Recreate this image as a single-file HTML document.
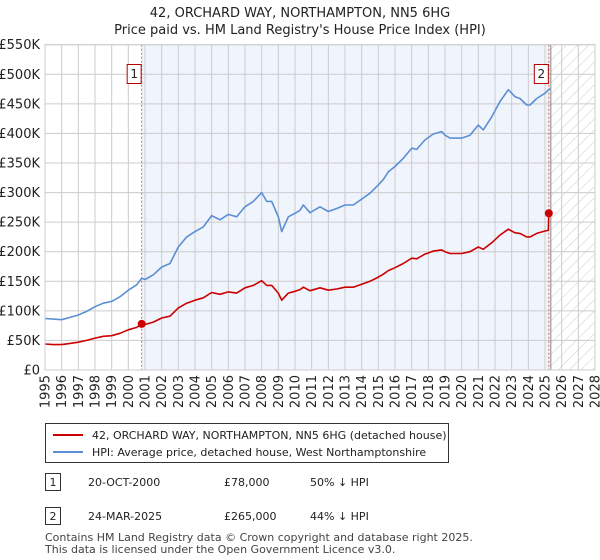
<!DOCTYPE html>
<html><head><meta charset="utf-8"><style>
body{margin:0;background:#fff;font-family:"Liberation Sans","DejaVu Sans",sans-serif;}
#wrap{position:relative;width:600px;height:560px;overflow:hidden;}
svg text{font-family:"DejaVu Sans","Liberation Sans",sans-serif;}
</style></head><body>
<div id="wrap">
<svg id="chart" width="600" height="560"></svg>
</div>
<script>
const years=[1995,1996,1997,1998,1999,2000,2001,2002,2003,2004,2005,2006,2007,2008,2009,2010,2011,2012,2013,2014,2015,2016,2017,2018,2019,2020,2021,2022,2023,2024,2025,2026,2027,2028];
const yTicks=[0,50,100,150,200,250,300,350,400,450,500,550];
const yTickLabels=["£0","£50K","£100K","£150K","£200K","£250K","£300K","£350K","£400K","£450K","£500K","£550K"];
const hpiDates=[1995,1995.5,1996,1996.5,1997,1997.5,1998,1998.5,1999,1999.5,2000,2000.5,2000.8,2001,2001.5,2002,2002.5,2003,2003.5,2004,2004.5,2005,2005.5,2006,2006.5,2007,2007.5,2008,2008.3,2008.6,2009,2009.2,2009.6,2010,2010.3,2010.5,2010.9,2011.5,2012,2012.5,2013,2013.5,2014,2014.5,2015,2015.3,2015.6,2016,2016.5,2017,2017.3,2017.8,2018.3,2018.8,2019,2019.3,2020,2020.5,2021,2021.3,2021.8,2022.3,2022.8,2023.2,2023.5,2023.9,2024.1,2024.5,2025,2025.3];
const hpiValues=[87,86,85,89,93,99,107,113,116,124,135,144,155,153,161,174,180,208,225,234,242,261,254,263,259,276,285,300,285,285,259,234,259,265,270,279,266,276,268,273,279,279,289,299,313,322,335,344,358,375,373,389,399,403,397,392,392,397,414,406,428,454,474,462,459,448,448,459,468,476];
const priceDates=[1995,1995.5,1996,1996.5,1997,1997.5,1998,1998.5,1999,1999.5,2000,2000.5,2000.8,2001,2001.5,2002,2002.5,2003,2003.5,2004,2004.5,2005,2005.5,2006,2006.5,2007,2007.5,2008,2008.3,2008.6,2009,2009.2,2009.6,2010,2010.3,2010.5,2010.9,2011.5,2012,2012.5,2013,2013.5,2014,2014.5,2015,2015.3,2015.6,2016,2016.5,2017,2017.3,2017.8,2018.3,2018.8,2019,2019.3,2020,2020.5,2021,2021.3,2021.8,2022.3,2022.8,2023.2,2023.5,2023.9,2024.1,2024.5,2025,2025.2,2025.23];
const priceValues=[44,43,43,45,47,50,54,57,58,62,68,72,78,77,81,88,91,105,113,118,122,131,128,132,130,139,143,151,143,143,130,118,130,133,136,140,134,139,135,137,140,140,145,150,157,162,168,173,180,189,188,196,201,203,200,197,197,200,208,204,215,228,238,232,231,225,225,231,235,236,265];
const saleDates=[2000.8,2025.23];
const salePrices=[78,265];
const saleLabels=["1","2"];
const dataEnd=2025.35;

const NS="http://www.w3.org/2000/svg";
const svg=document.getElementById('chart');
const X0=45,X1=595,Y0=370,Y1=44.7,YMIN=1995,YMAX=2028,VMAX=550;
const xs=y=>X0+(y-YMIN)/(YMAX-YMIN)*(X1-X0);
const ys=v=>Y0-v/VMAX*(Y0-Y1);
function el(tag,attrs,parent){const e=document.createElementNS(NS,tag);for(const k in attrs)e.setAttribute(k,attrs[k]);(parent||svg).appendChild(e);return e;}

// defs hatch
const defs=el('defs',{});
const pat=el('pattern',{id:'hatch',width:'8',height:'8',patternUnits:'userSpaceOnUse',patternTransform:'rotate(45)'},defs);
el('line',{x1:0,y1:0,x2:0,y2:8,stroke:'#ccc','stroke-width':1},pat);

// title
let t=el('text',{x:300,y:17,'text-anchor':'middle','font-size':13,fill:'#222'});t.textContent="42, ORCHARD WAY, NORTHAMPTON, NN5 6HG";


t=el('text',{x:300,y:34,'text-anchor':'middle','font-size':13,fill:'#222'});t.textContent="Price paid vs. HM Land Registry's House Price Index (HPI)";



// shading
let r=el('rect',{x:xs(saleDates[0]),y:Y1,width:xs(dataEnd)-xs(saleDates[0]),height:Y0-Y1,fill:'#f0f4fc'});


r=el('rect',{x:xs(dataEnd),y:Y1,width:X1-xs(dataEnd),height:Y0-Y1,fill:'url(#hatch)'});



// grid
years.forEach(y=>{el('line',{x1:xs(y),x2:xs(y),y1:Y1,y2:Y0,stroke:'#ccc','stroke-width':1});});
yTicks.forEach(v=>{el('line',{x1:X0,x2:X1,y1:ys(v),y2:ys(v),stroke:'#ccc','stroke-width':1});});
el('line',{x1:xs(dataEnd),x2:xs(dataEnd),y1:Y1,y2:Y0,stroke:'#888','stroke-width':1});

// y labels
yTicks.forEach((v,i)=>{const e=el('text',{x:40,y:ys(v)+4.5,'text-anchor':'end','font-size':13,fill:'#222'});e.textContent=yTickLabels[i];

});
// x labels
years.forEach(y=>{const e=el('text',{x:0,y:0,'text-anchor':'end','font-size':13,fill:'#222',transform:`translate(${xs(y)+4.5},375) rotate(-90)`});e.textContent=String(y);

});

// sale vlines
saleDates.forEach(d=>{el('line',{x1:xs(d),x2:xs(d),y1:Y1,y2:Y0,stroke:'#e06060','stroke-width':1,'stroke-dasharray':'2,2'});});

// series
function path(ds,vs){return ds.map((d,i)=>(i?'L':'M')+xs(d).toFixed(1)+','+ys(vs[i]).toFixed(1)).join('');}
let p=el('path',{d:path(hpiDates,hpiValues),fill:'none',stroke:'#5b8fd4','stroke-width':1.6,'stroke-linejoin':'round'});


p=el('path',{d:path(priceDates,priceValues),fill:'none',stroke:'#cc0000','stroke-width':1.6,'stroke-linejoin':'round'});



saleDates.forEach((d,i)=>{
 const c=el('circle',{cx:xs(d),cy:ys(salePrices[i]),r:4,fill:'#cc0000'});
 
 
 const g=el('g',{});
 
 
 el('rect',{x:xs(d)-14.5,y:64.5,width:14,height:19,fill:'#fff',stroke:'#b00000','stroke-width':1},g);
 const tt=el('text',{x:xs(d)-7.5,y:78,'text-anchor':'middle','font-size':12,fill:'#222'},g);tt.textContent=saleLabels[i];
});
el('rect',{x:X0,y:Y1,width:X1-X0,height:Y0-Y1,fill:'none',stroke:'#ccc','stroke-width':1});

// legend
const lg=el('g',{});


el('rect',{x:45.5,y:423.5,width:403,height:39,fill:'#fff',stroke:'#333','stroke-width':1},lg);
el('line',{x1:53,x2:83,y1:435,y2:435,stroke:'#cc0000','stroke-width':2},lg);
el('line',{x1:53,x2:83,y1:452,y2:452,stroke:'#5b8fd4','stroke-width':2},lg);
let lt=el('text',{x:92,y:439,'font-size':11,fill:'#222'},lg);lt.textContent="42, ORCHARD WAY, NORTHAMPTON, NN5 6HG (detached house)";
lt=el('text',{x:92,y:456,'font-size':11,fill:'#222'},lg);lt.textContent="HPI: Average price, detached house, West Northamptonshire";

// table
const rows=[["1","20-OCT-2000","£78,000","50% ↓ HPI",482],["2","24-MAR-2025","£265,000","44% ↓ HPI",516]];
rows.forEach(rw=>{
 const g=el('g',{});
 
 
 el('rect',{x:45.5,y:rw[4]-8.5,width:15,height:17,fill:'#fff',stroke:'#333','stroke-width':1},g);
 let a=el('text',{x:53,y:rw[4]+4,'text-anchor':'middle','font-size':11,fill:'#222'},g);a.textContent=rw[0];
 a=el('text',{x:88,y:rw[4]+4,'font-size':11,fill:'#222'},g);a.textContent=rw[1];
 a=el('text',{x:224,y:rw[4]+4,'font-size':11,fill:'#222'},g);a.textContent=rw[2];
 a=el('text',{x:310,y:rw[4]+4,'font-size':11,fill:'#222'},g);a.textContent=rw[3];
});
let f=el('text',{x:45,y:541,'font-size':11,fill:'#444'});f.textContent="Contains HM Land Registry data © Crown copyright and database right 2025.";


f=el('text',{x:45,y:553,'font-size':11,fill:'#444'});f.textContent="This data is licensed under the Open Government Licence v3.0.";


</script>
</body></html>
